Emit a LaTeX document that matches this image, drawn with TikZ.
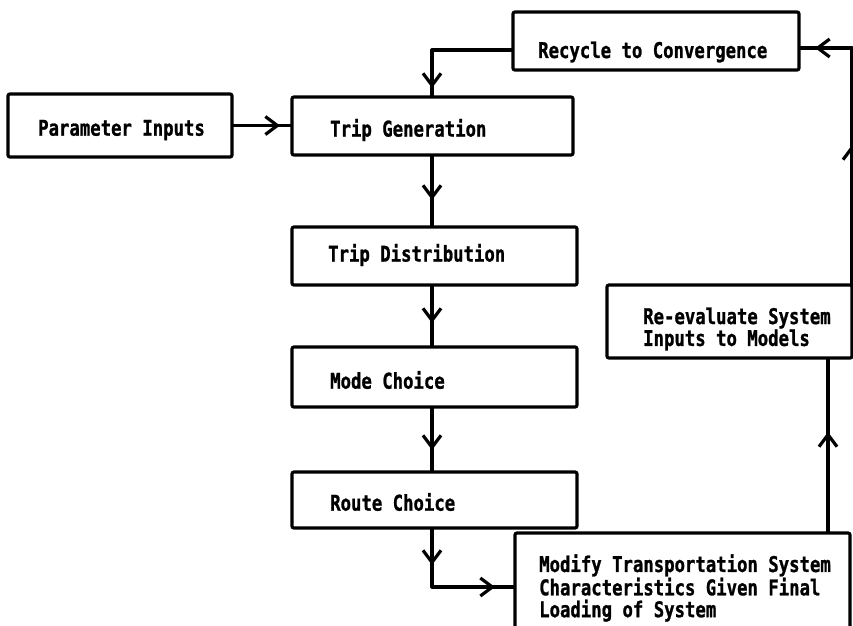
\documentclass[tikz,border=0pt]{standalone}
\usepackage{fontspec}
\newfontfamily\typefont[FakeBold=1.2]{DejaVu Sans Mono Bold}
\usetikzlibrary{arrows.meta,decorations.markings,calc}

\tikzset{
  x=1pt, y=-1pt,
  box/.style={draw, line width=3.2pt, rounded corners=2pt, anchor=north west,
              inner sep=0pt, outer sep=0pt},
  lbl/.style={anchor=west, inner sep=0pt, align=left, yscale=1.25,
              font=\typefont\fontsize{17.3}{17.5}\selectfont},
  link/.style={line width=3.2pt, line join=round},
  arrowat/.style={postaction=decorate,
    decoration={markings, mark=at position #1 with {\arrow[line width=3.2pt]{Straight Barb[length=12pt, width=18pt]}}}},
  arrowsat/.style 2 args={postaction=decorate,
    decoration={markings,
      mark=at position #1 with {\arrow[line width=3.2pt]{Straight Barb[length=12pt, width=18pt]}},
      mark=at position #2 with {\arrow[line width=3.2pt]{Straight Barb[length=12pt, width=18pt]}}}},
}

\begin{document}
\begin{tikzpicture}
  \useasboundingbox (0,0) rectangle (853,625);
  \fill[white] (0,0) rectangle (853,625);
  \clip (0,0) rectangle (853,625);

  % boxes
  \node[box, minimum width=224pt, minimum height=63pt] (par) at (8,94) {};
  \node[box, minimum width=281pt, minimum height=58pt] (tg)  at (292,97) {};
  \node[box, minimum width=285pt, minimum height=58pt] (td)  at (292,227) {};
  \node[box, minimum width=285pt, minimum height=60pt] (mc)  at (292,347) {};
  \node[box, minimum width=285pt, minimum height=56pt] (rc)  at (292,472) {};
  \node[box, minimum width=286pt, minimum height=58pt] (rec) at (513,12) {};
  \node[box, minimum width=245pt, minimum height=73pt] (rev) at (607,285) {};
  \node[box, minimum width=335pt, minimum height=120pt] (mod) at (515,533) {};

  % labels
  \node[lbl] at (38,130)  {Parameter Inputs};
  \node[lbl] at (330,130) {Trip Generation};
  \node[lbl] at (328,255) {Trip Distribution};
  \node[lbl] at (330,380) {Mode Choice};
  \node[lbl] at (330,502) {Route Choice};
  \node[lbl] at (538,52)  {Recycle to Convergence};
  \node[lbl] at (643,329) {Re-evaluate System\\Inputs to Models};
  \node[lbl] at (539,588) {Modify Transportation System\\Characteristics Given Final\\Loading of System};

  % connectors
  \draw[link, arrowat=48pt] (par.east) -- (tg.west |- par.east);
  \draw[link, arrowat=119pt] ($(rec.north west)!0.655!(rec.south west)$) -| (tg.north -| 432,0);
  \draw[link, arrowat=45pt] (tg.south -| 432,0) -- (td.north -| 432,0);
  \draw[link, arrowat=38pt] (td.south -| 432,0) -- (mc.north -| 432,0);
  \draw[link, arrowat=43pt] (mc.south -| 432,0) -- (rc.north -| 432,0);
  \draw[link, arrowsat={37pt}{122pt}] (rc.south -| 432,0) |- (mod.west |- 0,587);
  \draw[link, arrowat=101pt] (mod.north -| 828,0) -- (rev.south -| 828,0);
  \draw[link, arrowsat={140pt}{274pt}] (rev.north east) |- (rec.east |- 0,48);
\end{tikzpicture}
\end{document}
